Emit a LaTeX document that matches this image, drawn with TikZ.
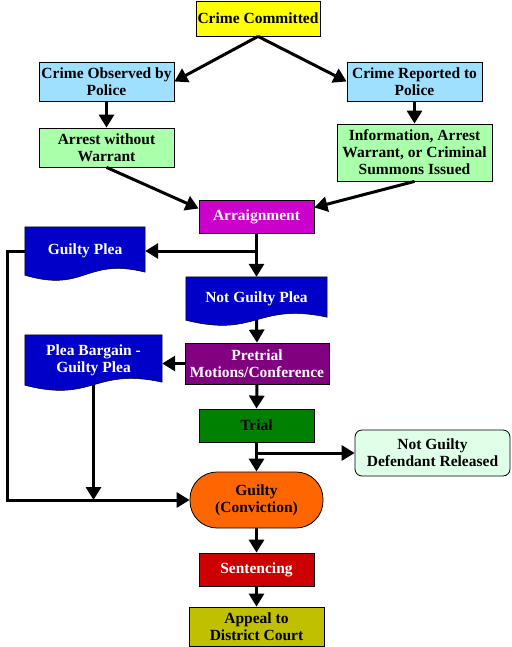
\documentclass[tikz,border=0pt]{standalone}
\usepackage{fontspec}
\setmainfont{Liberation Serif}
\usetikzlibrary{arrows.meta,calc}
\pgfdeclarelayer{bg}
\pgfsetlayers{bg,main}
\definecolor{cyel}{RGB}{255,255,0}
\definecolor{cltblue}{RGB}{160,224,255}
\definecolor{cltgreen}{RGB}{170,255,170}
\definecolor{cmag}{RGB}{204,0,204}
\definecolor{cblue}{RGB}{0,0,200}
\definecolor{cpurple}{RGB}{128,0,128}
\definecolor{cgreen}{RGB}{0,128,0}
\definecolor{cpale}{RGB}{224,255,232}
\definecolor{corange}{RGB}{255,102,0}
\definecolor{cred}{RGB}{204,0,0}
\definecolor{colive}{RGB}{192,192,0}
\newcommand\docshape[2]{%
  \begin{pgfonlayer}{bg}
  \filldraw[fill=#2, draw=black, line width=0.5pt]
    (#1.north west) -- (#1.north east) -- ([yshift=3pt]#1.south east)
    .. controls ([yshift=18pt]#1.south) and ([yshift=-18pt]#1.south) ..
    (#1.south west) -- cycle;
  \end{pgfonlayer}}
\begin{document}
\begin{tikzpicture}[x=1pt,y=-1pt,
  txt/.style={font=\bfseries\fontsize{15.5}{17}\selectfont, align=center, inner sep=0pt},
  box/.style={txt, draw=black, line width=0.8pt, rectangle},
  docbox/.style={txt, rectangle, text=white},
  conn/.style={line width=3pt, -{Triangle[length=13pt,width=15pt]}},
  plain/.style={line width=3pt}]
\useasboundingbox (0,0) rectangle (511,647);

\node[box, fill=cyel, minimum width=124pt, minimum height=35pt] (cc) at (258,18.5) {Crime Committed};
\node[box, fill=cltblue, minimum width=135pt, minimum height=39pt] (co) at (106.5,81.5) {Crime Observed by\\Police};
\node[box, fill=cltblue, minimum width=135pt, minimum height=39pt] (cr) at (414.5,81.5) {Crime Reported to\\Police};
\node[box, fill=cltgreen, minimum width=135pt, minimum height=39pt] (aw) at (106.5,147.5) {Arrest without\\Warrant};
\node[box, fill=cltgreen, minimum width=155pt, minimum height=57pt] (inf) at (414.5,152.5) {Information, Arrest\\Warrant, or Criminal\\Summons Issued};
\node[box, fill=cmag, text=white, minimum width=115pt, minimum height=33pt] (arr) at (256.5,216.5) {Arraignment};

\node[docbox, minimum width=120pt, minimum height=48pt] (gp) at (85,251) {Guilty Plea};
\docshape{gp}{cblue}
\node[docbox, minimum width=141pt, minimum height=43pt] (ngp) at (256.5,298.5) {Not Guilty Plea};
\docshape{ngp}{cblue}
\node[docbox, minimum width=137pt, minimum height=50pt] (pb) at (93.5,360) {Plea Bargain -\\Guilty Plea};
\docshape{pb}{cblue}

\node[box, fill=cpurple, text=white, minimum width=144pt, minimum height=41pt] (pt) at (257,363.5) {Pretrial\\Motions/Conference};
\node[box, fill=cgreen, minimum width=115pt, minimum height=33pt] (tr) at (256.5,425.5) {Trial};
\node[box, fill=cpale, rounded corners=7pt, minimum width=155pt, minimum height=46pt] (ngr) at (432.5,453) {Not Guilty\\Defendant Released};
\node[box, fill=corange, rounded corners=27pt, minimum width=133pt, minimum height=56pt] (g) at (256.5,500) {Guilty\\(Conviction)};
\node[box, fill=cred, text=white, minimum width=115pt, minimum height=33pt] (sen) at (256.5,569.5) {Sentencing};
\node[box, fill=colive, minimum width=135pt, minimum height=39pt] (ap) at (256.5,626.5) {Appeal to\\District Court};

\draw[conn] (cc.south) -- (co.east);
\draw[conn] (cc.south) -- (cr.west);
\draw[conn] (co.south) -- (aw.north);
\draw[conn] (cr.south) -- (inf.north);
\draw[conn] (aw.south) -- ([yshift=8pt]arr.west);
\draw[conn] (inf.south) -- ([yshift=9pt]arr.east);

\coordinate (s1) at (arr.south |- gp.east);
\draw[conn] (arr.south) -- (ngp.north);
\draw[conn] (s1) -- (gp.east);
\draw[conn] (ngp.south) -- (pt.north);
\draw[conn] (pt.west) -- (pt.west -| pb.east);
\draw[conn] (pt.south) -- (tr.north);

\coordinate (s2) at (tr.south |- ngr.west);
\draw[conn] (tr.south) -- (g.north);
\draw[conn] (s2) -- (ngr.west);

\coordinate (lc) at (7,500);
\draw[conn] (gp.west) -| (lc) -- (g.west);
\coordinate (pbj) at (pb.south |- g.west);
\draw[conn] (pb.south) -- (pbj);

\draw[conn] (g.south) -- (sen.north);
\draw[conn] (sen.south) -- (ap.north);
\end{tikzpicture}
\end{document}
